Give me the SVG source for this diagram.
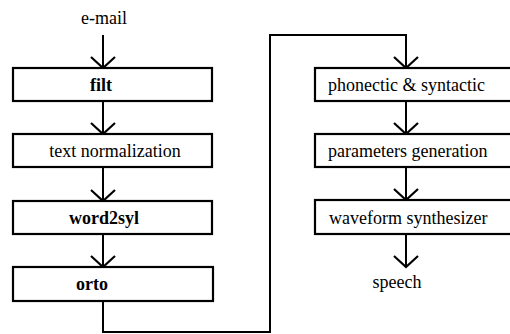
<svg xmlns="http://www.w3.org/2000/svg" width="510" height="334" viewBox="0 0 510 334">
<defs>
<style>
.box{fill:#fff;stroke:#000;stroke-width:2.2}
.t{font-family:"Times New Roman","Liberation Serif","DejaVu Serif","Noto Serif",Tinos,FreeSerif,Times,serif;font-size:18px;fill:#000}
.b{font-weight:bold}
.c{fill:none;stroke:#000;stroke-width:2}
</style>
<marker id="v" viewBox="0 0 14 26" refX="12" refY="13" markerWidth="14" markerHeight="26" markerUnits="userSpaceOnUse" orient="auto">
<path d="M1,1 L12,13 L1,25" fill="none" stroke="#000" stroke-width="2.2"/>
</marker>
</defs>
<rect width="510" height="334" fill="#fff"/>
<g id="connectors">
<line class="c" x1="103" y1="35" x2="103" y2="68" marker-end="url(#v)"/>
<line class="c" x1="103" y1="101" x2="103" y2="134" marker-end="url(#v)"/>
<line class="c" x1="103" y1="167" x2="103" y2="201" marker-end="url(#v)"/>
<line class="c" x1="103" y1="234" x2="103" y2="267" marker-end="url(#v)"/>
<polyline class="c" points="103,301 103,332 270,332 270,35 406,35 406,68" marker-end="url(#v)"/>
<line class="c" x1="406" y1="101" x2="406" y2="134" marker-end="url(#v)"/>
<line class="c" x1="406" y1="167" x2="406" y2="200" marker-end="url(#v)"/>
<line class="c" x1="406" y1="234" x2="406" y2="267" marker-end="url(#v)"/>
</g>
<g id="email"><text class="t" x="104" y="24" text-anchor="middle">e-mail</text></g>
<g id="filt"><rect class="box" x="13" y="68" width="199" height="33"/><text class="t b" x="101" y="91" text-anchor="middle">filt</text></g>
<g id="textnorm"><rect class="box" x="13" y="134" width="199" height="33"/><text class="t" x="115" y="157" text-anchor="middle">text normalization</text></g>
<g id="word2syl"><rect class="box" x="13" y="201" width="199" height="33"/><text class="t b" x="104" y="224" text-anchor="middle">word2syl</text></g>
<g id="orto"><rect class="box" x="13" y="267" width="200" height="34"/><text class="t b" x="92" y="290" text-anchor="middle">orto</text></g>
<g id="phonectic"><rect class="box" x="315" y="68" width="200" height="33"/><text class="t" x="328" y="91">phonectic &amp; syntactic</text></g>
<g id="params"><rect class="box" x="315" y="134" width="200" height="33"/><text class="t" x="328" y="157">parameters generation</text></g>
<g id="waveform"><rect class="box" x="315" y="200" width="200" height="34"/><text class="t" x="329" y="224">waveform synthesizer</text></g>
<g id="speech"><text class="t" x="397" y="288" text-anchor="middle">speech</text></g>
</svg>
